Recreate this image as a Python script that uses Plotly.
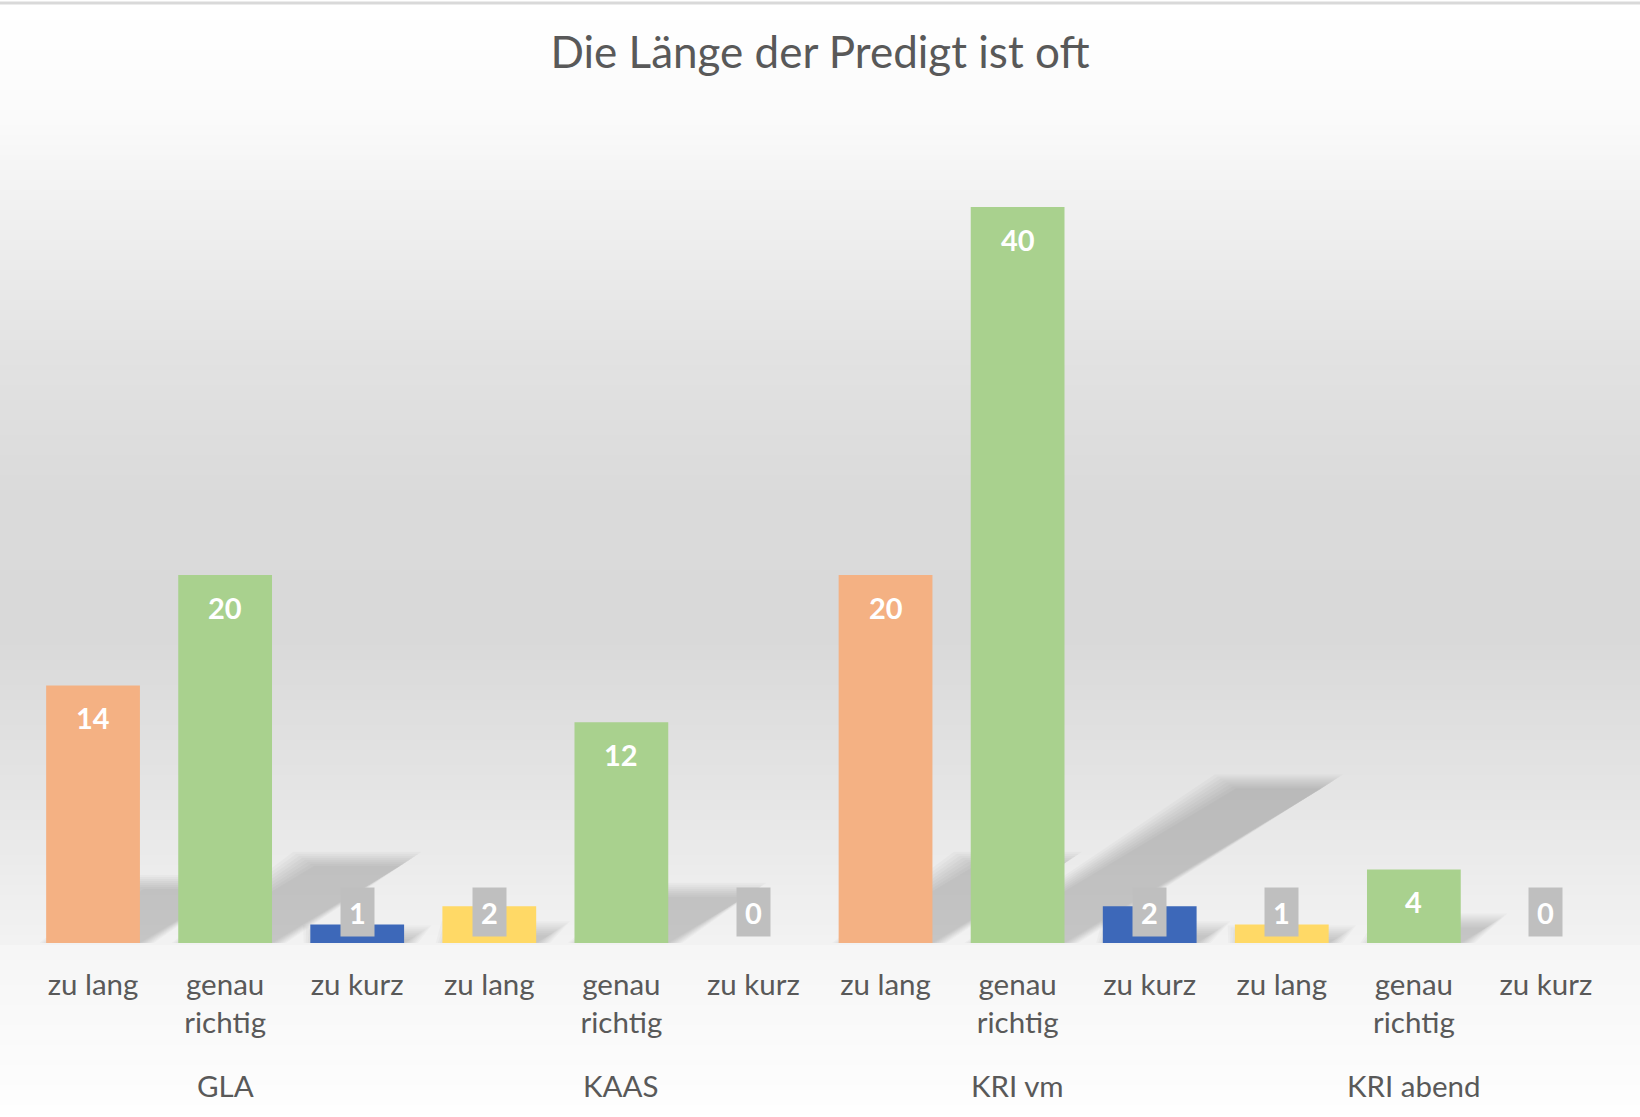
import plotly.graph_objects as go

# ---- data ----
groups = ["GLA", "KAAS", "KRI vm", "KRI abend"]
answers = ["zu lang", "genau<br>richtig", "zu kurz"]
values = [14, 20, 1, 2, 12, 0, 20, 40, 2, 1, 4, 0]
bar_colors = ["#F4B183", "#A9D18E", "#3D68B9",
              "#FFD966", "#A9D18E", "#BFBFBF",
              "#F4B183", "#A9D18E", "#3D68B9",
              "#FFD966", "#A9D18E", "#BFBFBF"]

n = len(values)
xs = list(range(n))
tick_text = [answers[i % 3] for i in range(n)]

FONT = "Lato, Calibri, 'Open Sans', sans-serif"
TXT = "#595959"

W, H = 1640, 1117
L, R, T, B = 27, 28, 115, 174
plot_h = H - T - B
plot_w = W - L - R
YMAX = 45

fig = go.Figure()
fig.add_trace(go.Bar(
    x=xs, y=values, marker=dict(color=bar_colors, line=dict(width=0)),
    width=0.71, hoverinfo="x+y", showlegend=False,
))

shapes = []
# background gradient (style only)
stops = [(0, 255), (40, 254), (120, 250), (214, 240), (356, 226), (500, 218),
         (640, 217), (783, 228), (890, 238), (942, 242), (946, 246), (997, 248), (1117, 254)]

def grey_at(py):
    for (a, ga), (b, gb) in zip(stops[:-1], stops[1:]):
        if a <= py <= b:
            t = (py - a) / (b - a) if b > a else 0
            return ga + (gb - ga) * t
    return 255

step = 5
xp0, xp1 = -L / plot_w - 0.01, 1 + R / plot_w + 0.01
for py in range(0, H, step):
    g = int(round(grey_at(py + step / 2)))
    y0 = (H - B - (py + step + 0.5)) / plot_h
    y1 = (H - B - py) / plot_h
    shapes.append(dict(type="rect", xref="paper", yref="paper",
                       x0=xp0, x1=xp1, y0=y0, y1=y1, layer="below",
                       line=dict(width=0), fillcolor=f"rgb({g},{g},{g})"))
# top border line
shapes.append(dict(type="line", xref="paper", yref="paper", x0=xp0, x1=xp1,
                   y0=(H - B - 3) / plot_h, y1=(H - B - 3) / plot_h,
                   line=dict(color="#D9D9D9", width=3), layer="below"))

# soft bar shadows (derived from values)
px_per_unit = plot_h / YMAX
px_per_cat = plot_w / n
for x, v in zip(xs, values):
    if v <= 0:
        continue
    hpx = v * px_per_unit
    dx = 0.35 * hpx / px_per_cat
    hh = 0.21 * v
    for e in [14, 12, 10, 8, 6, 4, 2, 0]:
        ex = e / px_per_cat
        ey = e / px_per_unit
        xl, xr = x - 0.3 - ex, x + 0.355 + ex
        top = hh + ey
        path = (f"M {xl},0 L {xr},0 L {xr + dx + ex * 0.5},{top} "
                f"L {xl + dx - ex * 0.5},{top} Z")
        shapes.append(dict(type="path", xref="x", yref="y", path=path,
                           fillcolor="rgba(0,0,0,0.023)", line=dict(width=0),
                           layer="below"))

annotations = []
for x, v in zip(xs, values):
    if v >= 4:
        annotations.append(dict(x=x, y=v, xref="x", yref="y", text=f"<b>{v}</b>",
                                showarrow=False, yshift=-32, yanchor="middle",
                                font=dict(family=FONT, size=29, color="white")))
    else:
        annotations.append(dict(x=x, y=0, xref="x", yref="y", text=f"<b>{v}</b>",
                                showarrow=False, yshift=31, yanchor="middle",
                                bgcolor="#BFBFBF", borderpad=5, width=23, height=38,
                                font=dict(family=FONT, size=29, color="white")))

for gi, g in enumerate(groups):
    annotations.append(dict(x=gi * 3 + 1, y=0, xref="x", yref="paper", text=g,
                            showarrow=False, yshift=-142, yanchor="middle",
                            font=dict(family=FONT, size=29.5, color=TXT)))

fig.update_layout(
    width=W, height=H,
    margin=dict(l=L, r=R, t=T, b=B, pad=0),
    paper_bgcolor="white", plot_bgcolor="rgba(0,0,0,0)",
    title=dict(text="Die Länge der Predigt ist oft", x=0.5, xanchor="center",
               y=1 - 53 / H, yanchor="middle", yref="container",
               font=dict(family=FONT, size=44, color=TXT)),
    xaxis=dict(range=[-0.5, n - 0.5], tickvals=xs, ticktext=tick_text,
               showgrid=False, zeroline=False, showline=False, ticks="",
               tickfont=dict(family=FONT, size=29.5, color=TXT),
               ticklabelstandoff=21, fixedrange=True),
    yaxis=dict(range=[0, YMAX], visible=False, showgrid=False, zeroline=False,
               fixedrange=True),
    shapes=shapes, annotations=annotations,
    bargap=0.29,
)

fig.write_html("out.html", config={"displayModeBar": False},
               post_script="document.body.style.margin='0';document.body.style.overflow='hidden';")
